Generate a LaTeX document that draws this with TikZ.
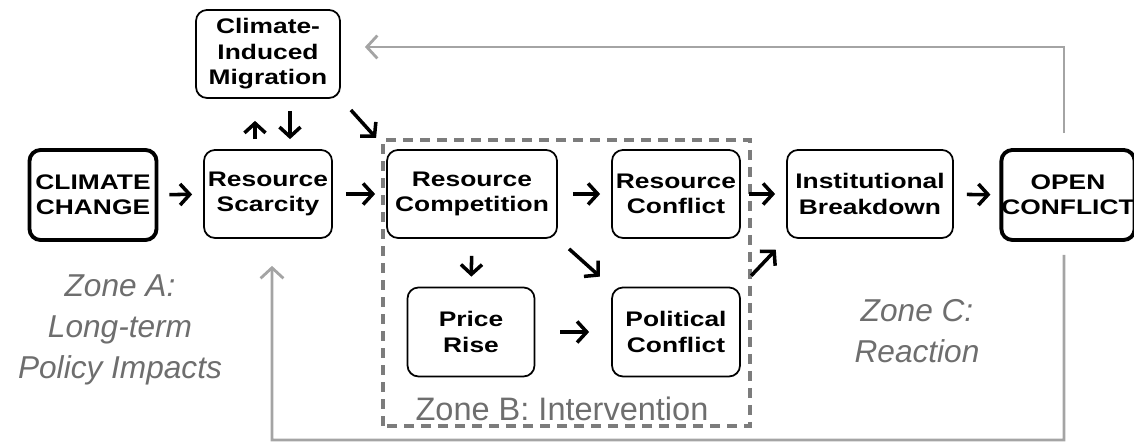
\documentclass[tikz,border=0pt]{standalone}
\usepackage{fontspec}
\setmainfont{Liberation Sans}
\newfontfamily\boxfont{Liberation Sans}[FakeStretch=1.25]
\usetikzlibrary{arrows.meta}
\definecolor{zonegray}{HTML}{6E6E6E}
\definecolor{fbgray}{HTML}{A4A4A4}
\begin{document}
\begin{tikzpicture}[>={Straight Barb[length=5.5pt,width=12pt]},
  box/.style={draw,rounded corners=0.22cm,line width=1pt,minimum height=1.76cm,align=center,inner sep=0pt,font=\boxfont\bfseries\fontsize{12}{14.5}\selectfont},
  endbox/.style={box,line width=2.2pt,minimum height=1.8cm},
  arr/.style={->,line width=2pt,shorten <=0.22cm,shorten >=0.22cm},
  fb/.style={-{Straight Barb[length=6pt,width=13pt]},fbgray,line width=1.6pt},
  zone/.style={zonegray,align=center,font=\itshape\fontsize{18}{23.5}\selectfont}]
\useasboundingbox (0,0) rectangle (22.68,8.84);

\draw[zonegray!90,line width=2pt,dash pattern=on 0.2cm off 0.14cm] (7.66,0.32) rectangle (15.0,6.04);

\node[endbox,minimum width=2.54cm] (cc) at (1.86,4.94) {CLIMATE\\CHANGE};
\node[box,minimum width=2.56cm] (scar) at (5.36,4.96) {Resource\\Scarcity};
\node[box,minimum width=2.88cm] (mig) at (5.36,7.76) {Climate-\\Induced\\Migration};
\node[box,minimum width=3.4cm] (comp) at (9.44,4.96) {Resource\\Competition};
\node[box,minimum width=2.56cm] (rconf) at (13.52,4.96) {Resource\\Conflict};
\node[box,minimum width=2.54cm,minimum height=1.78cm] (price) at (9.42,2.2) {Price\\Rise};
\node[box,minimum width=2.56cm,minimum height=1.78cm] (pol) at (13.52,2.2) {Political\\Conflict};
\node[box,minimum width=3.32cm] (inst) at (17.4,4.96) {Institutional\\Breakdown};
\node[endbox,minimum width=2.64cm] (open) at (21.36,4.94) {OPEN\\CONFLICT};

\node[zone] (zonea) at (2.4,2.24) {Zone A:\\Long-term\\Policy Impacts};
\node[zone] (zonec) at (18.34,2.22) {Zone C:\\Reaction};
\node[zonegray,font=\fontsize{18.5}{22}\selectfont] (zoneb) at (11.24,0.66) {Zone B: Intervention};

\draw[arr] (cc) -- (scar);
\draw[arr,shorten <=0.26cm] (scar) -- (comp);
\draw[arr,shorten <=0.3cm] (comp) -- (rconf);
\draw[arr,shorten <=0.16cm] (rconf) -- (inst);
\draw[arr,shorten <=0.26cm,shorten >=0.18cm] (inst) -- (open);
\draw[arr,shorten <=0.34cm,shorten >=0.2cm] (comp) -- (price);
\draw[arr,shorten <=0.3cm,shorten >=0.3cm] (comp.south east) -- (pol.north west);
\draw[arr,shorten <=0.5cm,shorten >=0.44cm] (price) -- (pol);
\draw[arr,shorten <=0.3cm,shorten >=0.3cm] (pol.north east) -- (inst.south west);
\draw[arr,shorten <=0.2cm,shorten >=0.44cm] ([xshift=-0.26cm]scar.north) -- ([xshift=-0.26cm]mig.south);
\draw[arr,shorten <=0.24cm,shorten >=0.2cm] ([xshift=0.44cm]mig.south) -- ([xshift=0.44cm]scar.north);
\draw[arr,shorten <=0.3cm,shorten >=0.3cm] (mig.south east) -- (comp.north west);

\coordinate (low) at (5.44,0.04);
\draw[fb,shorten <=0.3cm,shorten >=0.48cm] ([xshift=-0.08cm]open.north) |- ([yshift=0.14cm]mig.east);
\draw[fb,shorten <=0.26cm,shorten >=0.54cm] ([xshift=-0.08cm]open.south) |- (low) -- ([xshift=0.08cm]scar.south);
\end{tikzpicture}
\end{document}
